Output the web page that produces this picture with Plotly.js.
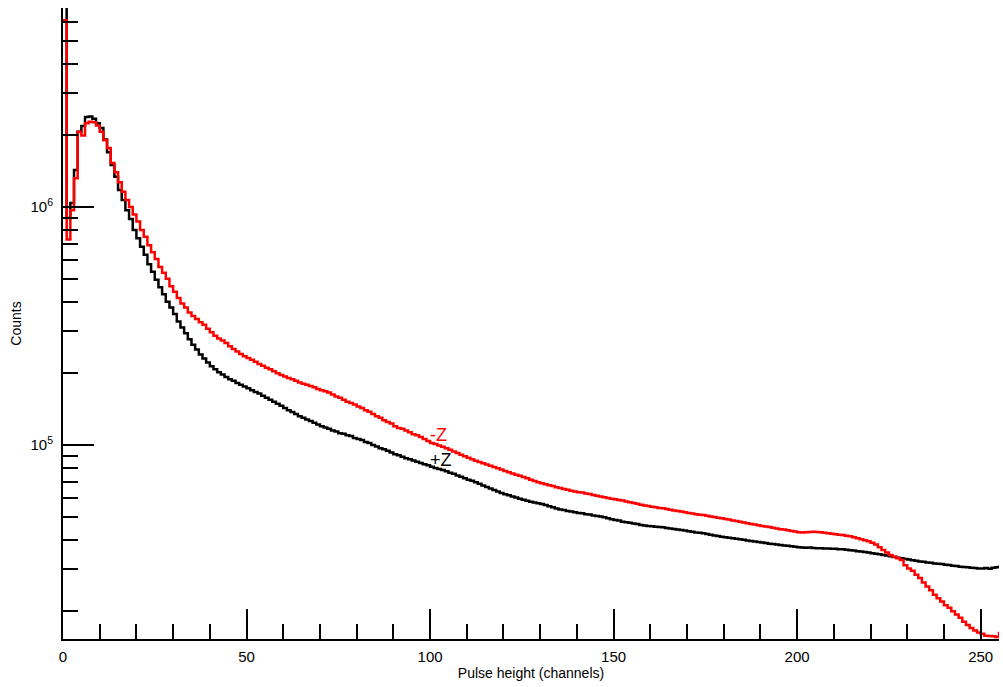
<!DOCTYPE html>
<html>
<head>
<meta charset="utf-8">
<script src="https://cdn.plot.ly/plotly-3.0.1.min.js"></script>
<style>html,body{margin:0;padding:0;background:#fff;}#chart{width:1003px;height:687px;}</style>
</head>
<body>
<div id="chart"></div>
<script>
// Counts per channel (channel i spans [i, i+1])
const plusZ = [
  8e6, 9.0e5, 1.04e6, 1.43e6, 2.07e6, 2.19e6, 2.39e6, 2.40e6, 2.35e6, 2.25e6,
  2.15e6, 1.92e6, 1.70e6, 1.50e6, 1.34e6, 1.18e6, 1.07e6, 9.7e5, 8.9e5, 8.0e5,
  7.4e5, 6.8e5, 6.3e5, 5.75e5, 5.35e5, 4.95e5, 4.6e5, 4.3e5, 4.0e5, 3.78e5,
  3.55e5, 3.3e5, 3.12e5, 2.95e5, 2.78e5, 2.64e5, 2.52e5, 2.40e5, 2.31e5, 2.22e5,
  2.14e5, 2.08e5, 2.02e5, 1.98e5, 1.93e5, 1.89e5, 1.86e5, 1.82e5, 1.79e5, 1.76e5,
  1.73e5, 1.70e5, 1.67e5, 1.645e5, 1.61e5, 1.58e5, 1.55e5, 1.52e5, 1.49e5, 1.46e5,
  1.43e5, 1.40e5, 1.375e5, 1.35e5, 1.32e5, 1.30e5, 1.28e5, 1.26e5, 1.24e5, 1.22e5,
  1.20e5, 1.185e5, 1.17e5, 1.15e5, 1.14e5, 1.12e5, 1.115e5, 1.10e5, 1.09e5, 1.07e5,
  1.06e5, 1.05e5, 1.03e5, 1.02e5, 1.00e5, 9.85e4, 9.7e4, 9.6e4, 9.45e4, 9.3e4,
  9.15e4, 9.05e4, 8.93e4, 8.8e4, 8.72e4, 8.6e4, 8.5e4, 8.4e4, 8.3e4, 8.22e4,
  8.1e4, 8.0e4, 7.92e4, 7.85e4, 7.75e4, 7.65e4, 7.57e4, 7.45e4, 7.36e4, 7.25e4,
  7.15e4, 7.07e4, 6.97e4, 6.87e4, 6.76e4, 6.66e4, 6.57e4, 6.47e4, 6.38e4, 6.29e4,
  6.21e4, 6.15e4, 6.07e4, 6.01e4, 5.94e4, 5.88e4, 5.83e4, 5.78e4, 5.73e4, 5.69e4,
  5.65e4, 5.6e4, 5.53e4, 5.47e4, 5.41e4, 5.36e4, 5.33e4, 5.28e4, 5.25e4, 5.22e4,
  5.18e4, 5.16e4, 5.12e4, 5.1e4, 5.06e4, 5.03e4, 5.0e4, 4.97e4, 4.92e4, 4.88e4,
  4.84e4, 4.81e4, 4.76e4, 4.73e4, 4.71e4, 4.68e4, 4.65e4, 4.61e4, 4.59e4, 4.57e4,
  4.55e4, 4.53e4, 4.52e4, 4.51e4, 4.48e4, 4.46e4, 4.44e4, 4.41e4, 4.39e4, 4.37e4,
  4.34e4, 4.32e4, 4.29e4, 4.28e4, 4.26e4, 4.23e4, 4.2e4, 4.17e4, 4.15e4, 4.12e4,
  4.1e4, 4.08e4, 4.06e4, 4.04e4, 4.02e4, 4.0e4, 3.97e4, 3.95e4, 3.93e4, 3.91e4,
  3.89e4, 3.87e4, 3.85e4, 3.84e4, 3.82e4, 3.80e4, 3.78e4, 3.77e4, 3.75e4, 3.74e4,
  3.72e4, 3.71e4, 3.70e4, 3.71e4, 3.69e4, 3.68e4, 3.68e4, 3.67e4, 3.67e4, 3.66e4,
  3.66e4, 3.65e4, 3.65e4, 3.63e4, 3.61e4, 3.6e4, 3.58e4, 3.57e4, 3.55e4, 3.53e4,
  3.51e4, 3.49e4, 3.47e4, 3.45e4, 3.43e4, 3.41e4, 3.38e4, 3.36e4, 3.34e4, 3.32e4,
  3.30e4, 3.28e4, 3.26e4, 3.24e4, 3.23e4, 3.21e4, 3.2e4, 3.18e4, 3.17e4, 3.16e4,
  3.14e4, 3.13e4, 3.11e4, 3.10e4, 3.08e4, 3.07e4, 3.06e4, 3.05e4, 3.04e4, 3.03e4,
  3.03e4, 3.04e4, 3.02e4, 3.05e4, 3.06e4, 3.08e4
];

const minusZ = [
  6.1e6, 7.3e5, 9.7e5, 1.32e6, 2.07e6, 2.0e6, 2.25e6, 2.28e6, 2.27e6, 2.2e6,
  2.07e6, 1.91e6, 1.77e6, 1.53e6, 1.40e6, 1.27e6, 1.16e6, 1.07e6, 1.0e6, 9.3e5,
  8.7e5, 8.0e5, 7.5e5, 6.9e5, 6.45e5, 6.05e5, 5.6e5, 5.3e5, 5.0e5, 4.65e5,
  4.4e5, 4.15e5, 3.93e5, 3.78e5, 3.6e5, 3.48e5, 3.38e5, 3.28e5, 3.2e5, 3.08e5,
  2.98e5, 2.88e5, 2.8e5, 2.75e5, 2.68e5, 2.6e5, 2.53e5, 2.47e5, 2.41e5, 2.36e5,
  2.32e5, 2.28e5, 2.24e5, 2.19e5, 2.15e5, 2.11e5, 2.08e5, 2.04e5, 2.0e5, 1.97e5,
  1.94e5, 1.91e5, 1.89e5, 1.86e5, 1.83e5, 1.81e5, 1.79e5, 1.77e5, 1.75e5, 1.72e5,
  1.70e5, 1.68e5, 1.66e5, 1.63e5, 1.6e5, 1.58e5, 1.55e5, 1.52e5, 1.5e5, 1.48e5,
  1.45e5, 1.43e5, 1.40e5, 1.38e5, 1.35e5, 1.32e5, 1.30e5, 1.27e5, 1.25e5, 1.23e5,
  1.20e5, 1.18e5, 1.17e5, 1.15e5, 1.13e5, 1.11e5, 1.10e5, 1.08e5, 1.06e5, 1.04e5,
  1.02e5, 1.01e5, 9.95e4, 9.84e4, 9.7e4, 9.55e4, 9.4e4, 9.25e4, 9.1e4, 8.96e4,
  8.83e4, 8.71e4, 8.59e4, 8.48e4, 8.38e4, 8.28e4, 8.18e4, 8.08e4, 7.98e4, 7.88e4,
  7.78e4, 7.68e4, 7.59e4, 7.5e4, 7.42e4, 7.34e4, 7.25e4, 7.15e4, 7.06e4, 6.98e4,
  6.9e4, 6.84e4, 6.78e4, 6.72e4, 6.65e4, 6.6e4, 6.53e4, 6.48e4, 6.42e4, 6.38e4,
  6.33e4, 6.31e4, 6.26e4, 6.22e4, 6.17e4, 6.12e4, 6.08e4, 6.03e4, 5.99e4, 5.95e4,
  5.91e4, 5.87e4, 5.84e4, 5.79e4, 5.75e4, 5.7e4, 5.66e4, 5.61e4, 5.57e4, 5.54e4,
  5.5e4, 5.47e4, 5.44e4, 5.42e4, 5.38e4, 5.35e4, 5.31e4, 5.28e4, 5.25e4, 5.22e4,
  5.18e4, 5.15e4, 5.12e4, 5.09e4, 5.08e4, 5.04e4, 5.01e4, 4.98e4, 4.95e4, 4.92e4,
  4.89e4, 4.86e4, 4.82e4, 4.79e4, 4.76e4, 4.72e4, 4.69e4, 4.66e4, 4.63e4, 4.6e4,
  4.57e4, 4.54e4, 4.52e4, 4.49e4, 4.46e4, 4.43e4, 4.41e4, 4.38e4, 4.35e4, 4.33e4,
  4.30e4, 4.29e4, 4.30e4, 4.31e4, 4.32e4, 4.31e4, 4.30e4, 4.28e4, 4.26e4, 4.24e4,
  4.22e4, 4.2e4, 4.19e4, 4.16e4, 4.13e4, 4.10e4, 4.06e4, 4.02e4, 3.98e4, 3.94e4,
  3.88e4, 3.82e4, 3.72e4, 3.62e4, 3.53e4, 3.45e4, 3.40e4, 3.34e4, 3.29e4, 3.12e4,
  3.03e4, 2.96e4, 2.85e4, 2.76e4, 2.64e4, 2.54e4, 2.45e4, 2.35e4, 2.27e4, 2.2e4,
  2.12e4, 2.07e4, 2.0e4, 1.94e4, 1.88e4, 1.81e4, 1.75e4, 1.70e4, 1.66e4, 1.63e4,
  1.61e4, 1.58e4, 1.575e4, 1.57e4, 1.56e4, 1.62e4
];

const seriesNames = ['+Z', '-Z'];
const seriesColors = ['#000000', '#ff0000'];

const yMajorTicks = [1e5, 1e6];
const yMajorLabels = ['10<sup>5</sup>', '10<sup>6</sup>'];
const yMinorTicks = [2e4, 3e4, 4e4, 5e4, 6e4, 7e4, 8e4, 9e4,
                     2e5, 3e5, 4e5, 5e5, 6e5, 7e5, 8e5, 9e5,
                     2e6, 3e6, 4e6, 5e6, 6e6];

const xTitle = 'Pulse height (channels)';
const yTitle = 'Counts';

function stepTrace(vals, name, color) {
  const x = vals.map((_, i) => i);
  x.push(vals.length);
  const y = vals.slice();
  y.push(vals[vals.length - 1]);
  return {
    x: x, y: y, name: name, type: 'scatter', mode: 'lines',
    line: {shape: 'hv', color: color, width: 2.5},
    hoverinfo: 'x+y'
  };
}

const traces = [
  stepTrace(plusZ, seriesNames[0], seriesColors[0]),
  stepTrace(minusZ, seriesNames[1], seriesColors[1])
];

const font = 'Liberation Sans, Arial, Helvetica, sans-serif';

const layout = {
  width: 1003, height: 687,
  margin: {l: 63, r: 4, t: 8, b: 48},
  paper_bgcolor: '#ffffff', plot_bgcolor: '#ffffff',
  showlegend: false,
  font: {family: font, color: '#000', size: 15},
  xaxis: {
    range: [0, 255],
    tickmode: 'linear', tick0: 0, dtick: 50,
    ticks: 'inside', ticklen: 30, tickwidth: 2, tickcolor: '#000',
    minor: {dtick: 10, ticks: 'inside', ticklen: 15, tickwidth: 2, tickcolor: '#000', showgrid: false},
    showline: true, linewidth: 2, linecolor: '#000',
    showgrid: false, zeroline: false,
    ticklabelstandoff: 3,
    tickfont: {family: font, size: 15, color: '#000'},
    title: {text: xTitle, font: {family: font, size: 14, color: '#000'}, standoff: 4}
  },
  yaxis: {
    type: 'log',
    range: [Math.log10(1.53e4), Math.log10(6.86e6)],
    tickmode: 'array', tickvals: yMajorTicks, ticktext: yMajorLabels,
    ticks: 'inside', ticklen: 31, tickwidth: 2, tickcolor: '#000',
    minor: {tickmode: 'array', tickvals: yMinorTicks, ticks: 'inside', ticklen: 15, tickwidth: 2, tickcolor: '#000', showgrid: false},
    showline: true, linewidth: 2, linecolor: '#000',
    showgrid: false, zeroline: false,
    ticklabelstandoff: 5,
    tickfont: {family: font, size: 15, color: '#000'},
    title: {text: yTitle, font: {family: font, size: 14, color: '#000'}, standoff: 6}
  },
  annotations: [
    {x: 99.5, y: Math.log10(1.10e5), xref: 'x', yref: 'y', text: seriesNames[1],
     showarrow: false, xanchor: 'left', yanchor: 'middle',
     font: {family: font, size: 18, color: seriesColors[1]}},
    {x: 99.5, y: Math.log10(8.65e4), xref: 'x', yref: 'y', text: seriesNames[0],
     showarrow: false, xanchor: 'left', yanchor: 'middle',
     font: {family: font, size: 18, color: seriesColors[0]}}
  ]
};

Plotly.newPlot('chart', traces, layout, {displayModeBar: false, staticPlot: true});
</script>
</body>
</html>
